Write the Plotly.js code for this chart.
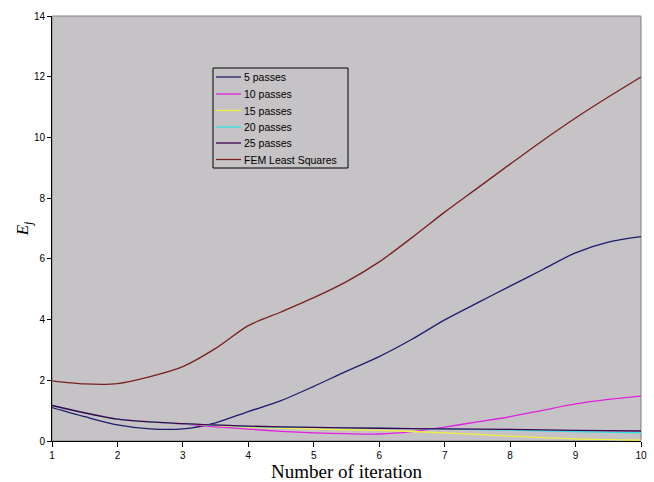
<!DOCTYPE html>
<html>
<head>
<meta charset="utf-8">
<script src="https://cdn.plot.ly/plotly-3.0.1.min.js"></script>
<style>html,body{margin:0;padding:0;background:#fff;}#chart{width:654px;height:482px;}</style>
</head>
<body>
<div id="chart"></div>
<script>
const xHalf = [1,1.5,2,2.5,3,3.5,4,4.5,5,5.5,6,6.5,7,7.5,8,8.5,9,9.5,10];
const xInt = [1,2,3,4,5,6,7,8,9,10];

const pass5 = [1.10,0.80,0.53,0.40,0.40,0.60,0.97,1.33,1.80,2.30,2.78,3.35,3.99,4.55,5.10,5.65,6.20,6.55,6.73];
const pass10 = [1.17,0.93,0.72,0.63,0.56,0.47,0.39,0.32,0.27,0.24,0.23,0.31,0.46,0.63,0.80,1.01,1.22,1.37,1.48];
const pass15 = [1.17,0.72,0.57,0.46,0.39,0.35,0.27,0.16,0.07,0.03];
const pass20 = [1.17,0.72,0.57,0.48,0.45,0.42,0.39,0.36,0.31,0.27];
const pass25 = [1.17,0.72,0.57,0.49,0.45,0.42,0.40,0.38,0.35,0.33];
const femLS = [1.98,1.88,1.89,2.12,2.45,3.05,3.80,4.25,4.72,5.25,5.90,6.70,7.54,8.33,9.12,9.90,10.64,11.33,11.99];

const names = ['5 passes','10 passes','15 passes','20 passes','25 passes','FEM Least Squares'];
const colors = ['#1c1c70','#e020e0','#f0f040','#30e0e0','#400050','#7a2020'];
const xs = [xHalf,xHalf,xInt,xInt,xInt,xHalf];
const ys = [pass5,pass10,pass15,pass20,pass25,femLS];

const traces = names.map((n,i)=>({
  x: xs[i], y: ys[i], name: n, type:'scatter', mode:'lines',
  line:{color:colors[i], width:1.3, shape:'spline', smoothing:0.8}
}));

// plot area in pixels (for placing the hand-drawn legend box)
const L = 52, R = 641, T = 16, B = 441;
const px = v => (v - L) / (R - L);
const py = v => (B - v) / (B - T);

const legShapes = [{type:'rect', xref:'paper', yref:'paper',
  x0:px(213), x1:px(348), y0:py(168), y1:py(68),
  line:{color:'#000', width:1}, fillcolor:'rgba(0,0,0,0)'}];
const legAnn = [];
const rowY = [77, 94, 110.5, 127, 143, 159.5];
names.forEach((n,i)=>{
  legShapes.push({type:'line', xref:'paper', yref:'paper',
    x0:px(216), x1:px(241), y0:py(rowY[i]), y1:py(rowY[i]),
    line:{color:colors[i], width:1.3}});
  legAnn.push({xref:'paper', yref:'paper', x:px(242), y:py(rowY[i]),
    xanchor:'left', yanchor:'middle', showarrow:false, text:n,
    font:{family:'"Liberation Sans", Arial, sans-serif', size:10.5, color:'#000'}});
});

const layout = {
  width:654, height:482,
  margin:{l:L, r:654-R, t:T, b:482-B},
  paper_bgcolor:'#ffffff',
  plot_bgcolor:'#c6c3c6',
  font:{family:'"Liberation Sans", Arial, sans-serif', size:10, color:'#000'},
  showlegend:false,
  xaxis:{range:[1,10], dtick:1, tick0:1, showgrid:false, zeroline:false,
    showline:true, linecolor:'#000', linewidth:1, ticks:'outside', ticklen:5, tickcolor:'#000',
    title:{text:'Number of iteration', font:{family:'"Liberation Serif", "Times New Roman", serif', size:19, color:'#000'}, standoff:0}},
  yaxis:{range:[0,14], dtick:2, showgrid:false, zeroline:false,
    showline:true, linecolor:'#000', linewidth:1, ticks:'outside', ticklen:4, tickcolor:'#000',
    title:{text:'<i>E<sub>j</sub></i>', font:{family:'"Liberation Serif", "Times New Roman", serif', size:17, color:'#000'}, standoff:0}},
  shapes:[{type:'rect', xref:'paper', yref:'paper', x0:0, x1:1, y0:0, y1:1,
    line:{color:'#808080', width:1}, layer:'below'}].concat(legShapes),
  annotations: legAnn
};
Plotly.newPlot('chart', traces, layout, {displayModeBar:false, staticPlot:true});
</script>
</body>
</html>
